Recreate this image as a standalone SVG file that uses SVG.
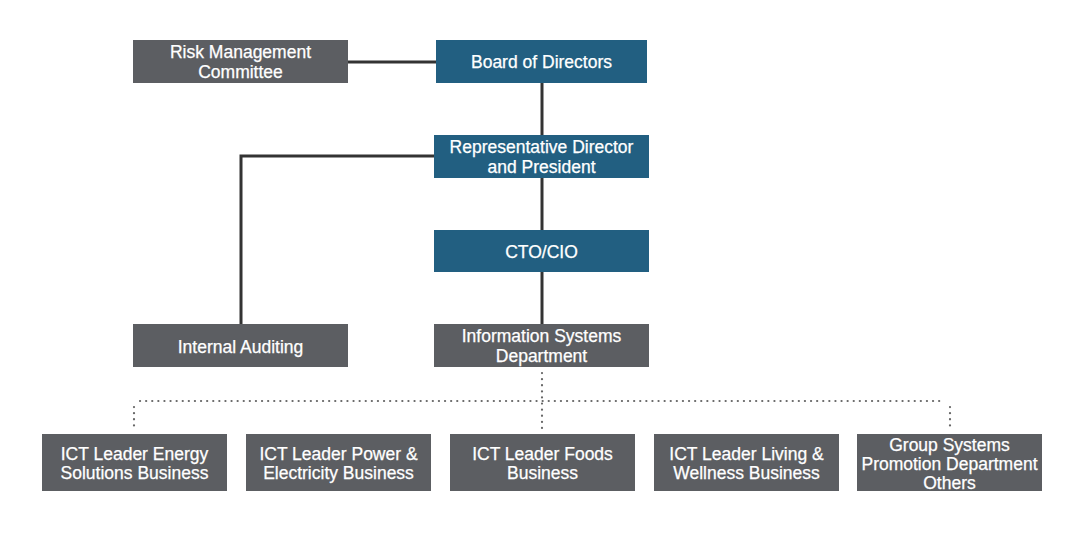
<svg xmlns="http://www.w3.org/2000/svg" width="1084" height="533" viewBox="0 0 1084 533">
<style>
.g{fill:#5c5e62}
.b{fill:#225f81}
.t{fill:#fff;font-family:"Liberation Sans",Arial,sans-serif;font-size:17.5px;text-anchor:middle;stroke:#fff;stroke-width:0.25}
.ln{stroke:#333;stroke-width:3;fill:none}
.dt{stroke:#666;stroke-width:2.2;fill:none;stroke-dasharray:0.1 6;stroke-linecap:round}
</style>
<rect width="1084" height="533" fill="#fff"/>
<g id="connectors">
<path class="ln" d="M348 62H436"/>
<path class="ln" d="M542 83V135"/>
<path class="ln" d="M542 178V230"/>
<path class="ln" d="M542 272V324"/>
<path class="ln" d="M434 156H241V324"/>
<path class="dt" d="M542 373V431"/>
<path class="dt" d="M140 401H944"/>
<path class="dt" d="M134 407V428"/>
<path class="dt" d="M950 407V428"/>
</g>
<g id="risk"><rect class="g" x="133" y="40" width="215" height="43"/><text class="t" x="240.5" y="58">Risk Management</text><text class="t" x="240.5" y="78">Committee</text></g>
<g id="board"><rect class="b" x="436" y="40" width="211" height="43"/><text class="t" x="541.5" y="68">Board of Directors</text></g>
<g id="president"><rect class="b" x="434" y="135" width="215" height="43"/><text class="t" x="541.5" y="153">Representative Director</text><text class="t" x="541.5" y="173">and President</text></g>
<g id="cto"><rect class="b" x="434" y="230" width="215" height="42"/><text class="t" x="541.5" y="258">CTO/CIO</text></g>
<g id="audit"><rect class="g" x="133" y="324" width="215" height="43"/><text class="t" x="240.5" y="353">Internal Auditing</text></g>
<g id="isd"><rect class="g" x="434" y="324" width="215" height="43"/><text class="t" x="541.5" y="342">Information Systems</text><text class="t" x="541.5" y="362">Department</text></g>
<g id="energy"><rect class="g" x="42" y="434" width="185" height="57"/><text class="t" x="134.5" y="460">ICT Leader Energy</text><text class="t" x="134.5" y="479">Solutions Business</text></g>
<g id="power"><rect class="g" x="246" y="434" width="185" height="57"/><text class="t" x="338.5" y="460">ICT Leader Power &amp;</text><text class="t" x="338.5" y="479">Electricity Business</text></g>
<g id="foods"><rect class="g" x="450" y="434" width="185" height="57"/><text class="t" x="542.5" y="460">ICT Leader Foods</text><text class="t" x="542.5" y="479">Business</text></g>
<g id="living"><rect class="g" x="654" y="434" width="185" height="57"/><text class="t" x="746.5" y="460">ICT Leader Living &amp;</text><text class="t" x="746.5" y="479">Wellness Business</text></g>
<g id="group"><rect class="g" x="857" y="434" width="185" height="57"/><text class="t" x="949.5" y="451">Group Systems</text><text class="t" x="949.5" y="470">Promotion Department</text><text class="t" x="949.5" y="489">Others</text></g>
</svg>
